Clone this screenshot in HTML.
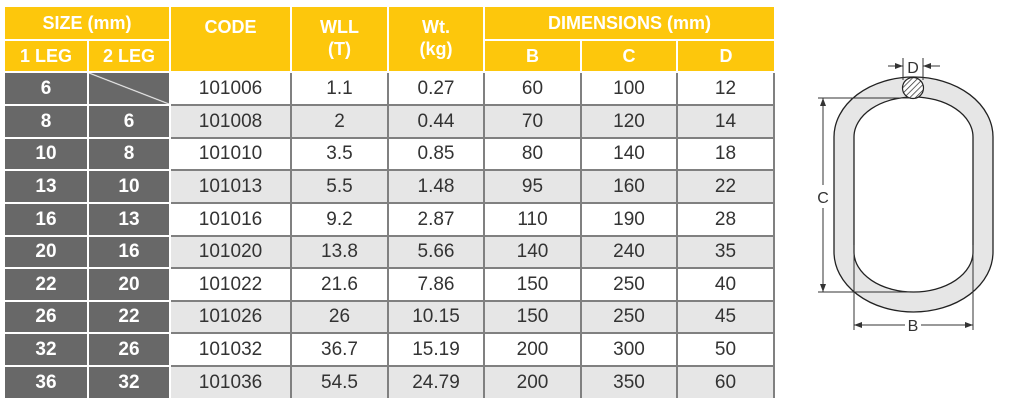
<!DOCTYPE html>
<html><head><meta charset="utf-8"><style>
html,body{margin:0;padding:0;background:#fff;width:1022px;height:408px;overflow:hidden}
table{position:absolute;left:5px;top:7px;border-collapse:collapse;table-layout:fixed;font-family:"Liberation Sans",sans-serif}
td{padding:0;text-align:center;vertical-align:middle}
.h td{background:#fdc70c;color:#fff;font-weight:bold;font-size:18px;border:2px solid #fff;border-top:none}
.h td.l{border-left:none}
tbody td{font-size:19px;color:#333;border:2px solid #808080}
tbody td.s{background:#686868;color:#fff;font-weight:bold;border:2px solid #fff;border-left:none}
tbody tr:nth-child(even) td{background:#e6e6e6}
tbody tr:nth-child(even) td.s{background:#686868}
tbody td:last-child{border-right:2px solid #808080}
</style></head><body>
<table>
<colgroup><col style="width:83px"><col style="width:82px"><col style="width:121px"><col style="width:97px"><col style="width:96px"><col style="width:97px"><col style="width:96px"><col style="width:97px"></colgroup>
<thead class="h">
<tr style="height:33px"><td colspan="2" class="l">SIZE (mm)</td><td rowspan="2" style="vertical-align:top;padding-top:10px">CODE</td><td rowspan="2" style="line-height:22px;vertical-align:top;padding-top:9px">WLL<br>(T)</td><td rowspan="2" style="line-height:22px;vertical-align:top;padding-top:9px">Wt.<br>(kg)</td><td colspan="3" style="border-right:none">DIMENSIONS (mm)</td></tr>
<tr style="height:32px"><td class="l">1 LEG</td><td>2 LEG</td><td>B</td><td>C</td><td style="border-right:none">D</td></tr>
</thead>
<tbody>
<tr style="height:33px"><td class="s">6</td><td class="s" style="background-image:linear-gradient(to bottom left,transparent calc(50% - 1px),#fff 50%,transparent calc(50% + 1px))"></td><td>101006</td><td>1.1</td><td>0.27</td><td>60</td><td>100</td><td>12</td></tr>
<tr style="height:33px"><td class="s">8</td><td class="s">6</td><td>101008</td><td>2</td><td>0.44</td><td>70</td><td>120</td><td>14</td></tr>
<tr style="height:32px"><td class="s">10</td><td class="s">8</td><td>101010</td><td>3.5</td><td>0.85</td><td>80</td><td>140</td><td>18</td></tr>
<tr style="height:33px"><td class="s">13</td><td class="s">10</td><td>101013</td><td>5.5</td><td>1.48</td><td>95</td><td>160</td><td>22</td></tr>
<tr style="height:33px"><td class="s">16</td><td class="s">13</td><td>101016</td><td>9.2</td><td>2.87</td><td>110</td><td>190</td><td>28</td></tr>
<tr style="height:32px"><td class="s">20</td><td class="s">16</td><td>101020</td><td>13.8</td><td>5.66</td><td>140</td><td>240</td><td>35</td></tr>
<tr style="height:33px"><td class="s">22</td><td class="s">20</td><td>101022</td><td>21.6</td><td>7.86</td><td>150</td><td>250</td><td>40</td></tr>
<tr style="height:32px"><td class="s">26</td><td class="s">22</td><td>101026</td><td>26</td><td>10.15</td><td>150</td><td>250</td><td>45</td></tr>
<tr style="height:33px"><td class="s">32</td><td class="s">26</td><td>101032</td><td>36.7</td><td>15.19</td><td>200</td><td>300</td><td>50</td></tr>
<tr style="height:32px"><td class="s" style="border-bottom:none">36</td><td class="s" style="border-bottom:none">32</td><td style="border-bottom:none">101036</td><td style="border-bottom:none">54.5</td><td style="border-bottom:none">24.79</td><td style="border-bottom:none">200</td><td style="border-bottom:none">350</td><td style="border-bottom:none">60</td></tr>
</tbody></table>
<svg width="1022" height="408" style="position:absolute;left:0;top:0" font-family="Liberation Sans,sans-serif">
<defs><pattern id="hp" width="4" height="4" patternUnits="userSpaceOnUse" patternTransform="rotate(45)"><rect width="4" height="4" fill="#fff"/><line x1="0" y1="0" x2="0" y2="4" stroke="#333" stroke-width="1.5"/></pattern>
<marker id="ar" markerWidth="8" markerHeight="6" refX="8" refY="3" orient="auto"><path d="M0,0 L8,3 L0,6z" fill="#333"/></marker></defs>
<path fill-rule="evenodd" fill="#e6e6e6" stroke="#222" stroke-width="1.3" d="M834,137 A79.5,60 0 0 1 993,137 L993,252 A79.5,60 0 0 1 834,252 Z M854,137 A59.5,40 0 0 1 973,137 L973,252 A59.5,40 0 0 1 854,252 Z"/>
<circle cx="913" cy="88" r="10.5" fill="url(#hp)" stroke="#222" stroke-width="1.2"/>
<g stroke="#333" stroke-width="1" fill="none">
<line x1="903" y1="58" x2="903" y2="80"/><line x1="923" y1="58" x2="923" y2="80"/>
<line x1="888" y1="66" x2="903" y2="66" marker-end="url(#ar)"/><line x1="940" y1="66" x2="923" y2="66" marker-end="url(#ar)"/>
<line x1="818" y1="98" x2="910" y2="98"/><line x1="818" y1="292" x2="910" y2="292"/>
<line x1="823" y1="185" x2="823" y2="98" marker-end="url(#ar)"/><line x1="823" y1="208" x2="823" y2="292" marker-end="url(#ar)"/>
<line x1="854" y1="245" x2="854" y2="330"/><line x1="973" y1="245" x2="973" y2="330"/>
<line x1="905" y1="325" x2="854" y2="325" marker-end="url(#ar)"/><line x1="921" y1="325" x2="973" y2="325" marker-end="url(#ar)"/>
</g>
<text x="913" y="73" font-size="16" text-anchor="middle" fill="#333">D</text>
<text x="823" y="203" font-size="16" text-anchor="middle" fill="#333">C</text>
<text x="913" y="331" font-size="16" text-anchor="middle" fill="#333">B</text>
</svg>
</body></html>
